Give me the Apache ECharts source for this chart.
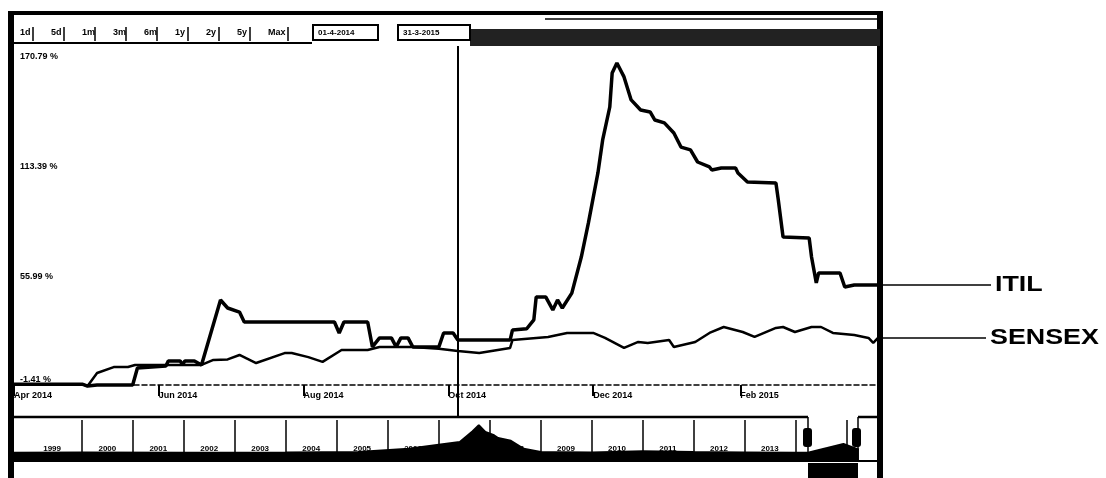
<!DOCTYPE html>
<html>
<head>
<meta charset="utf-8">
<script src="https://cdn.jsdelivr.net/npm/echarts@6/dist/echarts.min.js"></script>
<style>
  html, body { margin: 0; padding: 0; background: #fff; }
  #chart { width: 1106px; height: 478px; }
</style>
</head>
<body>
<div id="chart"></div>
<script>
// relative performance (%) since 01-4-2014
const itilData = [
  ['2014-04-01', 0], ['2014-04-30', 0], ['2014-05-02', -0.9], ['2014-05-06', -0.4],
  ['2014-05-21', -0.4], ['2014-05-23', 8.5], ['2014-06-04', 9.5], ['2014-06-05', 12.2],
  ['2014-06-10', 12.2], ['2014-06-11', 10.1], ['2014-06-12', 12.2], ['2014-06-16', 12.2],
  ['2014-06-19', 10.1], ['2014-06-27', 44.0], ['2014-06-30', 39.8], ['2014-07-05', 37.7],
  ['2014-07-07', 32.5], ['2014-08-14', 32.5], ['2014-08-16', 26.8], ['2014-08-18', 32.5],
  ['2014-08-28', 32.5], ['2014-08-30', 19.5], ['2014-09-02', 24.2], ['2014-09-07', 24.2],
  ['2014-09-09', 19.5], ['2014-09-11', 24.2], ['2014-09-14', 24.2], ['2014-09-16', 19.5],
  ['2014-09-27', 19.5], ['2014-09-29', 26.8], ['2014-10-03', 26.8], ['2014-10-05', 23.1],
  ['2014-10-27', 23.1], ['2014-10-28', 28.3], ['2014-11-03', 29.0], ['2014-11-06', 33.6],
  ['2014-11-07', 45.6], ['2014-11-11', 45.6], ['2014-11-14', 38.8], ['2014-11-16', 44.0],
  ['2014-11-18', 39.8], ['2014-11-22', 47.6], ['2014-11-26', 66.4], ['2014-11-29', 84.2],
  ['2014-12-03', 110.3], ['2014-12-05', 127.5], ['2014-12-08', 144.7], ['2014-12-09', 162.4],
  ['2014-12-11', 167.7], ['2014-12-14', 160.4], ['2014-12-17', 148.4], ['2014-12-21', 143.1],
  ['2014-12-25', 142.1], ['2014-12-27', 137.9], ['2014-12-31', 136.4], ['2015-01-04', 131.1],
  ['2015-01-07', 123.8], ['2015-01-11', 122.3], ['2015-01-14', 116.0], ['2015-01-19', 113.4],
  ['2015-01-20', 111.8], ['2015-01-24', 112.9], ['2015-01-30', 112.9], ['2015-01-31', 110.3],
  ['2015-02-04', 105.6], ['2015-02-16', 105.0], ['2015-02-17', 96.2], ['2015-02-19', 76.9],
  ['2015-03-02', 76.3], ['2015-03-03', 66.4], ['2015-03-05', 52.9], ['2015-03-06', 58.1],
  ['2015-03-15', 58.1], ['2015-03-17', 50.8], ['2015-03-21', 51.8], ['2015-03-31', 51.8]
]
const sensexData = [
  ['2014-04-01', 0], ['2014-04-30', 0], ['2014-05-02', -0.9], ['2014-05-06', 5.9],
  ['2014-05-13', 9.0], ['2014-05-19', 9.0], ['2014-05-22', 10.1], ['2014-06-19', 10.1],
  ['2014-06-24', 12.7], ['2014-06-30', 13.0], ['2014-07-05', 15.3], ['2014-07-12', 11.1],
  ['2014-07-24', 16.3], ['2014-07-27', 16.3], ['2014-08-03', 14.2], ['2014-08-09', 11.7],
  ['2014-08-17', 17.9], ['2014-08-28', 17.9], ['2014-09-02', 19.5], ['2014-09-16', 19.5],
  ['2014-09-27', 18.5], ['2014-10-05', 17.4], ['2014-10-14', 16.3], ['2014-10-27', 19.0],
  ['2014-10-28', 23.1], ['2014-11-12', 24.7], ['2014-11-20', 26.8], ['2014-12-01', 26.8],
  ['2014-12-06', 24.2], ['2014-12-14', 19.0], ['2014-12-20', 22.1], ['2014-12-24', 21.6],
  ['2015-01-02', 23.1], ['2015-01-04', 19.5], ['2015-01-13', 22.1], ['2015-01-19', 26.8],
  ['2015-01-25', 29.9], ['2015-02-02', 27.3], ['2015-02-07', 24.7], ['2015-02-16', 29.4],
  ['2015-02-19', 29.9], ['2015-02-24', 27.3], ['2015-03-03', 29.9], ['2015-03-07', 29.9],
  ['2015-03-12', 26.8], ['2015-03-21', 25.7], ['2015-03-27', 24.2], ['2015-03-29', 21.6],
  ['2015-03-31', 24.2]
]
// long history shown in the navigator strip
const historyData = [
  ['1998-09-01', 18], ['2000-01-01', 19], ['2002-01-01', 18], ['2004-01-01', 19],
  ['2005-06-01', 20], ['2006-06-01', 28], ['2007-01-01', 38], ['2007-06-01', 45],
  ['2007-09-01', 72], ['2007-10-15', 87], ['2007-12-01', 70], ['2008-02-01', 62],
  ['2008-03-01', 55], ['2008-06-01', 48], ['2008-09-01', 28], ['2009-01-01', 20],
  ['2010-01-01', 19], ['2011-01-01', 22], ['2012-01-01', 20], ['2013-01-01', 19],
  ['2014-01-01', 18], ['2014-04-01', 18], ['2014-12-10', 40], ['2015-03-31', 26]
]
const yTicks = [-1.41, 55.99, 113.39, 170.79]
const xTickDates = ['2014-04-01', '2014-06-01', '2014-08-01', '2014-10-01', '2014-12-01', '2015-02-01']
const xTickLabels = ['Apr 2014', 'Jun 2014', 'Aug 2014', 'Oct 2014', 'Dec 2014', 'Feb 2015']
const yearTicks = ['2000-01-01', '2001-01-01', '2002-01-01', '2003-01-01', '2004-01-01', '2005-01-01',
  '2006-01-01', '2007-01-01', '2008-01-01', '2009-01-01', '2010-01-01', '2011-01-01',
  '2012-01-01', '2013-01-01', '2014-01-01', '2015-01-01']
const yearLabelDates = ['1999-06-01', '2000-07-01', '2001-07-01', '2002-07-01', '2003-07-01', '2004-07-01',
  '2005-07-01', '2006-07-01', '2007-07-01', '2008-07-01', '2009-07-01', '2010-07-01',
  '2011-07-01', '2012-07-01', '2013-07-01']
const yearLabels = ['1999', '2000', '2001', '2002', '2003', '2004', '2005', '2006', '2007',
  '2008', '2009', '2010', '2011', '2012', '2013']
const rangeButtons = ['1d', '5d', '1m', '3m', '6m', '1y', '2y', '5y', 'Max']
const rangeFrom = '01-4-2014'
const rangeTo = '31-3-2015'
const cursorDate = '2014-10-05'
const seriesNames = ['ITIL', 'SENSEX']

const ts = d => echarts.time.parse(d).getTime()
const toXY = arr => arr.map(p => [ts(p[0]), p[1]])
const xTickTs = xTickDates.map(ts)
const yearLabelTs = yearLabelDates.map(ts)
const FONT = '"Liberation Sans", Arial, sans-serif'

const chart = echarts.init(document.getElementById('chart'))

chart.setOption({
  animation: false,
  backgroundColor: '#fff',
  grid: [
    { left: 14, right: 228, top: 46, bottom: 61 },
    { left: 14, right: 228, top: 420, bottom: 18 }
  ],
  xAxis: [
    {
      type: 'value',
      gridIndex: 0,
      min: ts('2014-04-01'),
      max: ts('2015-03-31'),
      offset: -32,
      axisLine: { onZero: false, lineStyle: { color: '#000', width: 1.5, type: [5, 3] } },
      axisTick: { show: true, length: 11, customValues: xTickTs, lineStyle: { color: '#000', width: 2 } },
      axisLabel: {
        customValues: xTickTs,
        align: 'left',
        margin: 6,
        color: '#000',
        fontFamily: FONT,
        fontWeight: 'bold',
        fontSize: 9,
        formatter: v => {
          const i = xTickTs.indexOf(v)
          return i >= 0 ? xTickLabels[i] : ''
        }
      },
      splitLine: { show: false }
    },
    {
      type: 'value',
      gridIndex: 1,
      min: ts('1998-09-01'),
      max: ts('2015-08-15'),
      axisLine: { show: false },
      axisTick: { show: false },
      axisLabel: {
        customValues: yearLabelTs,
        inside: true,
        margin: 7,
        color: '#000',
        fontFamily: FONT,
        fontWeight: 'bold',
        fontSize: 8,
        formatter: v => {
          const i = yearLabelTs.indexOf(v)
          return i >= 0 ? yearLabels[i] : ''
        }
      },
      splitLine: { show: false },
      z: 10
    }
  ],
  yAxis: [
    {
      type: 'value',
      gridIndex: 0,
      min: -17.06,
      max: 176.53,
      axisLine: { show: false },
      axisTick: { show: false },
      splitLine: { show: false },
      axisLabel: {
        customValues: yTicks,
        inside: true,
        margin: 6,
        color: '#000',
        fontFamily: FONT,
        fontWeight: 'bold',
        fontSize: 9,
        formatter: v => {
          const t = v.toFixed(2) + ' %'
          return v === yTicks[0] ? '{low|' + t + '}' : t
        },
        rich: {
          low: { fontFamily: FONT, fontWeight: 'bold', fontSize: 9, color: '#000', padding: [0, 0, 14, 0] }
        }
      }
    },
    { type: 'value', gridIndex: 1, min: 0, max: 100, show: false }
  ],
  series: [
    {
      name: seriesNames[0],
      type: 'line',
      data: toXY(itilData),
      showSymbol: false,
      lineStyle: { color: '#000', width: 3.5 },
      markLine: {
        silent: true,
        symbol: 'none',
        label: { show: false },
        lineStyle: { color: '#000', width: 2, type: 'solid' },
        data: [{ xAxis: ts(cursorDate) }]
      }
    },
    {
      name: seriesNames[1],
      type: 'line',
      data: toXY(sensexData),
      showSymbol: false,
      lineStyle: { color: '#000', width: 2.5 }
    },
    {
      type: 'line',
      xAxisIndex: 1,
      yAxisIndex: 1,
      data: toXY(historyData),
      showSymbol: false,
      lineStyle: { color: '#000', width: 2 },
      areaStyle: { color: '#000', opacity: 1 },
      markLine: {
        silent: true,
        symbol: 'none',
        label: { show: false },
        lineStyle: { color: '#000', width: 1.5, type: 'solid' },
        data: yearTicks.map(d => ({ xAxis: ts(d) }))
      }
    }
  ]
})

// frame, toolbar and end-of-line annotations
const line = (x1, y1, x2, y2, w) => ({
  type: 'line', silent: true,
  shape: { x1, y1, x2, y2 },
  style: { stroke: '#000', lineWidth: w }
})
const rect = (x, y, width, height, fill, stroke) => ({
  type: 'rect', silent: true,
  shape: { x, y, width, height, r: 0 },
  style: { fill: fill || 'none', stroke: stroke || null, lineWidth: 2 }
})
const text = (t, x, y, size, extra) => Object.assign({
  type: 'text', silent: true, x, y,
  style: { text: t, fill: '#000', font: 'bold ' + size + 'px ' + FONT, textVerticalAlign: 'middle' }
}, extra || {})

const g = []
g.push(rect(8, 11, 6, 467, '#000'))
g.push(rect(877, 11, 6, 467, '#000'))
g.push(rect(8, 11, 875, 4, '#000'))
g.push(rect(470, 29, 410, 17, '#222'))
g.push(line(545, 19, 877, 19, 1.5))
g.push(line(14, 43, 312, 43, 2))
rangeButtons.forEach((b, i) => {
  const x = 20 + i * 31
  g.push(text(b, x, 33, 9))
  g.push(line(x + (b.length > 2 ? 20 : 13), 27, x + (b.length > 2 ? 20 : 13), 41, 1.5))
})
g.push(rect(313, 25, 65, 15, '#fff', '#000'))
g.push(text(rangeFrom, 318, 33, 8))
g.push(rect(398, 25, 72, 15, '#fff', '#000'))
g.push(text(rangeTo, 403, 33, 8))
g.push(line(14, 417, 808, 417, 2.5))
g.push(line(858, 417, 878, 417, 2.5))
g.push(line(14, 461, 878, 461, 2))
g.push(line(808, 417, 808, 461, 1.5))
g.push(line(858, 417, 858, 461, 1.5))
g.push({ type: 'rect', silent: true, shape: { x: 803, y: 428, width: 9, height: 19, r: 3 }, style: { fill: '#000' } })
g.push({ type: 'rect', silent: true, shape: { x: 852, y: 428, width: 9, height: 19, r: 3 }, style: { fill: '#000' } })
g.push(rect(808, 463, 50, 15, '#000'))

const ends = [itilData[itilData.length - 1], sensexData[sensexData.length - 1]]
const labelX = [995, 990]
ends.forEach((p, i) => {
  const y = Math.round(chart.convertToPixel({ gridIndex: 0 }, [ts(p[0]), p[1]])[1])
  g.push(line(880, y, labelX[i] - 4, y, 1.5))
  g.push(text(seriesNames[i], labelX[i], y, 22, { scaleX: 1.22, originX: 0, originY: 0 }))
})

chart.setOption({ graphic: { elements: g } })
window.addEventListener('resize', () => chart.resize())
</script>
</body>
</html>
